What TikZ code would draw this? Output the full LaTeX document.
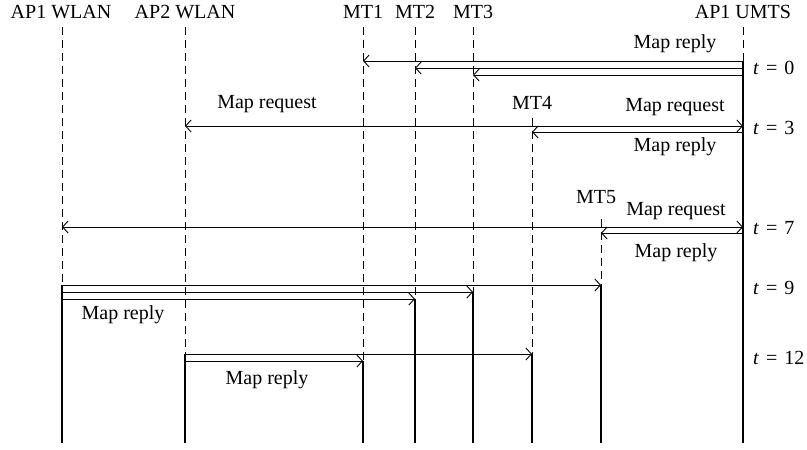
\documentclass[tikz,border=0pt]{standalone}
\usepackage{fontspec}
\setmainfont{Liberation Serif}
\usetikzlibrary{arrows.meta}
\newcommand{\tval}[1]{\textit{t}\kern7pt=\kern7pt#1}
\begin{document}
\begin{tikzpicture}[x=1pt,y=-1pt,
  lifeline/.style={line width=0.8pt, dash pattern=on 8pt off 5pt},
  active/.style={line width=2.4pt},
  msg/.style={line width=0.9pt, -{Straight Barb[length=5.5pt,width=12pt]}},
  lbl/.style={font=\fontsize{20}{23}\selectfont, inner sep=0pt},
  tlbl/.style={lbl, anchor=west},
]
\useasboundingbox (0,0) rectangle (807,450);

% lifeline heads
\node[lbl] (hw1) at (61,12)  {AP1 WLAN};
\node[lbl] (hw2) at (185,12) {AP2 WLAN};
\node[lbl] (hm1) at (363,12) {MT1};
\node[lbl] (hm2) at (415,12) {MT2};
\node[lbl] (hm3) at (473,12) {MT3};
\node[lbl] (hu)  at (743,12) {AP1 UMTS};
\node[lbl] (hm4) at (532,103) {MT4};
\node[lbl] (hm5) at (596,197) {MT5};

% lifeline ends and activation points
\coordinate (w1top) at (62,27);   \coordinate (w1on) at (62,285);  \coordinate (w1end) at (62,443);
\coordinate (w2top) at (185,27);  \coordinate (w2on) at (185,354); \coordinate (w2end) at (185,443);
\coordinate (m1top) at (363,27);  \coordinate (m1on) at (363,361); \coordinate (m1end) at (363,443);
\coordinate (m2top) at (415,27);  \coordinate (m2on) at (415,299); \coordinate (m2end) at (415,443);
\coordinate (m3top) at (473,27);  \coordinate (m3on) at (473,292); \coordinate (m3end) at (473,443);
\coordinate (m4top) at (532,118); \coordinate (m4on) at (532,354); \coordinate (m4end) at (532,443);
\coordinate (m5top) at (601,219); \coordinate (m5on) at (601,285); \coordinate (m5end) at (601,443);
\coordinate (utop)  at (743,27);  \coordinate (uon)  at (743,61);  \coordinate (uend)  at (743,443);

% dashed idle parts, thick active parts
\foreach \l in {w1,w2,m1,m2,m3,m4,m5,u} {
  \draw[lifeline] (\l top) -- (\l on);
  \draw[active] (\l on) -- (\l end);
}

% message endpoints
\coordinate (u0a) at (743,61);  \coordinate (m1a) at (363,61);
\coordinate (u0b) at (743,68);  \coordinate (m2a) at (415,68);
\coordinate (u0c) at (743,75);  \coordinate (m3a) at (473,75);

\coordinate (m4a) at (532,126); \coordinate (w2a) at (185,126); \coordinate (u3a) at (743,126);
\coordinate (u3b) at (743,132); \coordinate (m4b) at (532,132);

\coordinate (m5a) at (601,227); \coordinate (w1a) at (62,227);  \coordinate (u7a) at (743,227);
\coordinate (u7b) at (743,233); \coordinate (m5b) at (601,233);

\coordinate (w1b) at (62,285);  \coordinate (m5c) at (601,285);
\coordinate (w1c) at (62,292);  \coordinate (m3b) at (473,292);
\coordinate (w1d) at (62,299);  \coordinate (m2b) at (415,299);

\coordinate (w2b) at (185,354); \coordinate (m4c) at (532,354);
\coordinate (w2c) at (185,361); \coordinate (m1b) at (363,361);

% t = 0
\draw[msg] (u0a) -- (m1a);
\draw[msg] (u0b) -- (m2a);
\draw[msg] (u0c) -- (m3a);
\node[lbl] (r0) at (675,44) {Map reply};
\node[tlbl] (t0) at (753,68) {\tval{0}};

% t = 3
\draw[msg] (m4a) -- (w2a);
\draw[msg] (m4a) -- (u3a);
\draw[msg] (u3b) -- (m4b);
\node[lbl] (q3l) at (267,104) {Map request};
\node[lbl] (q3r) at (675,107) {Map request};
\node[lbl] (r3)  at (675,147) {Map reply};
\node[tlbl] (t3) at (753,128) {\tval{3}};

% t = 7
\draw[msg] (m5a) -- (w1a);
\draw[msg] (m5a) -- (u7a);
\draw[msg] (u7b) -- (m5b);
\node[lbl] (q7) at (676,211) {Map request};
\node[lbl] (r7) at (676,253) {Map reply};
\node[tlbl] (t7) at (753,228) {\tval{7}};

% t = 9
\draw[msg] (w1b) -- (m5c);
\draw[msg] (w1c) -- (m3b);
\draw[msg] (w1d) -- (m2b);
\node[lbl] (r9) at (123,315) {Map reply};
\node[tlbl] (t9) at (753,288) {\tval{9}};

% t = 12
\draw[msg] (w2b) -- (m4c);
\draw[msg] (w2c) -- (m1b);
\node[lbl] (r12) at (267,380) {Map reply};
\node[tlbl] (t12) at (753,358) {\tval{12}};
\end{tikzpicture}
\end{document}
